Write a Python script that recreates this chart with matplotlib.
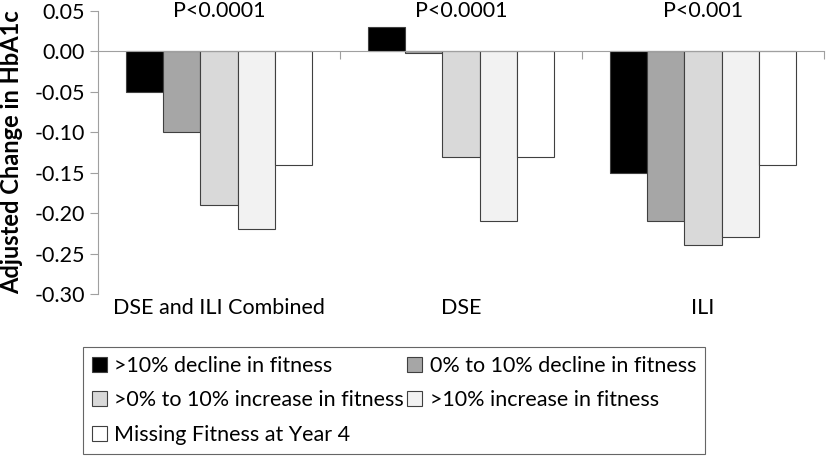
import numpy as np
import matplotlib.pyplot as plt

plt.rcParams['font.family'] = ['Lato', 'DejaVu Sans']

groups = ["DSE and ILI Combined", "DSE", "ILI"]
pvalues = ["P<0.0001", "P<0.0001", "P<0.001"]
series = [">10% decline in fitness", "0% to 10% decline in fitness",
          ">0% to 10% increase in fitness", ">10% increase in fitness",
          "Missing Fitness at Year 4"]
decline_big = [-0.05, 0.03, -0.15]
decline_small = [-0.10, -0.002, -0.21]
increase_small = [-0.19, -0.13, -0.24]
increase_big = [-0.22, -0.21, -0.23]
missing = [-0.14, -0.13, -0.14]
yticks = [-0.30, -0.25, -0.20, -0.15, -0.10, -0.05, 0.00, 0.05]
colors = ["#000000", "#a6a6a6", "#d9d9d9", "#f2f2f2", "#ffffff"]

values = [decline_big, decline_small, increase_small, increase_big, missing]
fs = 15.5

fig = plt.figure(figsize=(8.27, 4.57), dpi=100)
ax = fig.add_axes([98 / 827, 1 - 294 / 457, (824 - 98) / 827, (294 - 11) / 457])

x = np.arange(len(groups))
w = 0.765 / 5
handles = []
for j, (vals, c) in enumerate(zip(values, colors)):
    b = ax.bar(x + (j - 2) * w, vals, w, color=c, edgecolor="#404040",
               linewidth=0.8, label=series[j], zorder=2)
    handles.append(b)

ax.set_xlim(-0.5, 2.5)
ax.set_ylim(-0.30, 0.05)
ax.set_yticks(yticks)
ax.set_yticklabels(["%.2f" % v if abs(v) > 1e-9 else "0.00" for v in yticks])

for s in ["top", "right"]:
    ax.spines[s].set_visible(False)
ax.spines["left"].set_color("#a0a0a0")
ax.spines["bottom"].set_position(("data", 0))
ax.spines["bottom"].set_color("#a0a0a0")
ax.spines["bottom"].set_zorder(3)
ax.set_xticks([0.5, 1.5, 2.5])
ax.set_xticklabels([])
ax.tick_params(axis="x", length=6, color="#a0a0a0")
ax.tick_params(axis="y", length=6, color="#a0a0a0", labelsize=fs)

for i, (g, p) in enumerate(zip(groups, pvalues)):
    ax.text(i, 0.05, p, ha="center", va="center", fontsize=fs)
    ax.text(i, -0.3175, g, ha="center", va="center", fontsize=fs)

ax.set_ylabel("Adjusted Change in HbA1c", fontsize=17, fontweight="bold")
ax.yaxis.set_label_coords(-75 / 726, 0.5)

order = [0, 2, 4, 1, 3]
leg = fig.legend([handles[k] for k in order], [series[k] for k in order],
                 ncol=2, loc="upper left", bbox_to_anchor=(83 / 827, 1 - 347 / 457),
                 fontsize=fs, frameon=True, fancybox=False, edgecolor="#404040",
                 handlelength=0.7, handleheight=0.7, handletextpad=0.35,
                 columnspacing=0.15, borderaxespad=0, borderpad=0.4,
                 labelspacing=0.69)
leg.get_frame().set_linewidth(0.8)

fig.savefig("out.png", dpi=100)
